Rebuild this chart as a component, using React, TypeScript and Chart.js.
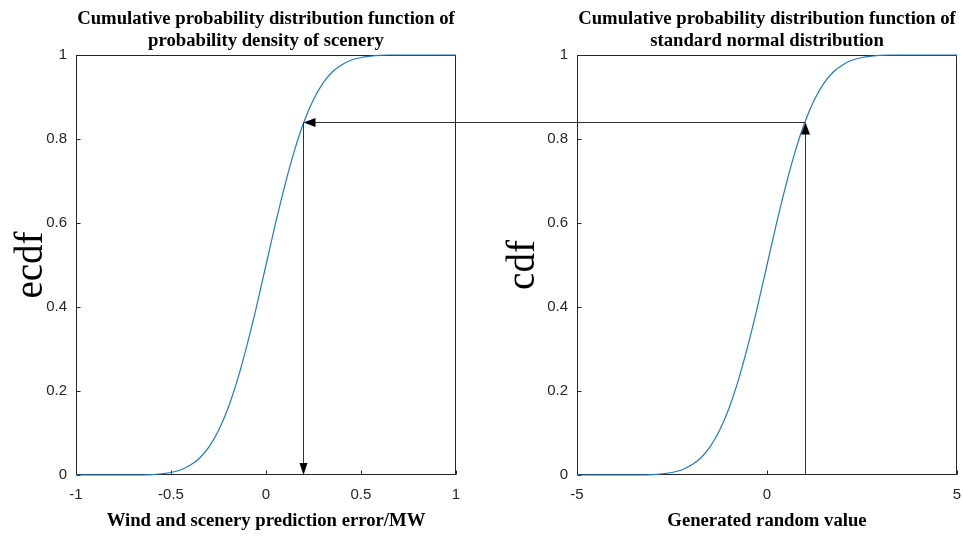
import React, { useEffect, useRef } from "react";
import { Chart, registerables } from "chart.js";

Chart.register(...registerables);

// ---- data ----
const LEFT_X = [
  -1, -0.95, -0.9, -0.85, -0.8, -0.75, -0.7, -0.65, -0.6, -0.55, -0.5, -0.45, -0.4, -0.35,
  -0.3, -0.25, -0.2, -0.15, -0.1, -0.05, 0, 0.05, 0.1, 0.15, 0.2, 0.25, 0.3, 0.35, 0.4,
  0.45, 0.5, 0.55, 0.6, 0.65, 0.7, 0.75, 0.8, 0.85, 0.9, 0.95, 1,
];
const LEFT_ECDF = [
  0, 0, 0, 0, 0, 0, 0, 0, 0.001, 0.003, 0.006, 0.012, 0.023, 0.04, 0.067, 0.106, 0.159,
  0.227, 0.309, 0.401, 0.5, 0.599, 0.691, 0.773, 0.841, 0.894, 0.933, 0.96, 0.977, 0.988,
  0.994, 0.997, 0.999, 1, 1, 1, 1, 1, 1, 1, 1,
];
const RIGHT_X = [
  -5, -4.75, -4.5, -4.25, -4, -3.75, -3.5, -3.25, -3, -2.75, -2.5, -2.25, -2, -1.75, -1.5,
  -1.25, -1, -0.75, -0.5, -0.25, 0, 0.25, 0.5, 0.75, 1, 1.25, 1.5, 1.75, 2, 2.25, 2.5,
  2.75, 3, 3.25, 3.5, 3.75, 4, 4.25, 4.5, 4.75, 5,
];
const RIGHT_CDF = [
  0, 0, 0, 0, 0, 0, 0, 0, 0.001, 0.003, 0.006, 0.012, 0.023, 0.04, 0.067, 0.106, 0.159,
  0.227, 0.309, 0.401, 0.5, 0.599, 0.691, 0.773, 0.841, 0.894, 0.933, 0.96, 0.977, 0.988,
  0.994, 0.997, 0.999, 1, 1, 1, 1, 1, 1, 1, 1,
];
const LEFT_X_TICKS = [-1, -0.5, 0, 0.5, 1];
const RIGHT_X_TICKS = [-5, 0, 5];
const Y_TICKS = [0, 0.2, 0.4, 0.6, 0.8, 1];
const LEFT_TITLE = ["Cumulative probability distribution function of", "probability density of scenery"];
const RIGHT_TITLE = ["Cumulative probability distribution function of", "standard normal distribution"];
const LEFT_X_LABEL = "Wind and scenery prediction error/MW";
const RIGHT_X_LABEL = "Generated random value";
const LEFT_Y_LABEL = "ecdf";
const RIGHT_Y_LABEL = "cdf";
const MAPPED_ERROR = [0.2];
const RANDOM_VALUE = [1];
const PROBABILITY = [0.841];

const AXIS_COLOR = "#262626";
const CURVE_COLOR = "#1a7cc4";
const ARROW_COLOR = "#333333";
const SERIF = "'Liberation Serif', 'Times New Roman', serif";
const SANS = "'Liberation Sans', Arial, sans-serif";

type Side = "left" | "right";

const fmt = (v: any) => String(+Number(v).toFixed(3));

function framePlugin(side: Side) {
  return {
    id: "matlabFrame" + side,
    beforeDatasetsDraw(chart: any) {
      const { ctx, chartArea: a, scales } = chart;
      const L = Math.round(a.left) + 0.5;
      const T = Math.round(a.top) + 0.5;
      const R = Math.round(a.right) - 0.5;
      const B = Math.round(a.bottom) - 0.5;
      ctx.save();
      ctx.strokeStyle = AXIS_COLOR;
      ctx.lineWidth = 1;
      ctx.strokeRect(L, T, R - L, B - T);
      ctx.beginPath();
      const xt = side === "left" ? LEFT_X_TICKS : RIGHT_X_TICKS;
      xt.forEach((v) => {
        const px = Math.round(scales.x.getPixelForValue(v)) + 0.5;
        ctx.moveTo(px, B);
        ctx.lineTo(px, B - 4);
      });
      Y_TICKS.forEach((v) => {
        const py = Math.round(scales.y.getPixelForValue(v)) + 0.5;
        ctx.moveTo(L, py);
        ctx.lineTo(L + 4, py);
      });
      ctx.stroke();
      ctx.restore();
    },
    afterDatasetsDraw(chart: any) {
      const { ctx, scales, width } = chart;
      const py = Math.round(scales.y.getPixelForValue(PROBABILITY[0])) + 0.5;
      const pb = Math.round(scales.y.getPixelForValue(0));
      ctx.save();
      ctx.strokeStyle = ARROW_COLOR;
      ctx.fillStyle = "#000";
      ctx.lineWidth = 1;
      if (side === "left") {
        const px = Math.round(scales.x.getPixelForValue(MAPPED_ERROR[0])) - 0.5;
        ctx.beginPath();
        ctx.moveTo(px, py);
        ctx.lineTo(px, pb - 10);
        ctx.moveTo(px + 10, py);
        ctx.lineTo(width, py);
        ctx.stroke();
        ctx.beginPath();
        ctx.moveTo(px, pb);
        ctx.lineTo(px - 4, pb - 12);
        ctx.lineTo(px + 4, pb - 12);
        ctx.closePath();
        ctx.fill();
        ctx.beginPath();
        ctx.moveTo(px, py);
        ctx.lineTo(px + 12, py - 4.5);
        ctx.lineTo(px + 12, py + 4.5);
        ctx.closePath();
        ctx.fill();
      } else {
        const px = Math.round(scales.x.getPixelForValue(RANDOM_VALUE[0])) + 0.5;
        ctx.beginPath();
        ctx.moveTo(0, py);
        ctx.lineTo(px, py);
        ctx.moveTo(px, pb);
        ctx.lineTo(px, py + 10);
        ctx.stroke();
        ctx.beginPath();
        ctx.moveTo(px, py);
        ctx.lineTo(px - 4.5, py + 12);
        ctx.lineTo(px + 4.5, py + 12);
        ctx.closePath();
        ctx.fill();
      }
      ctx.restore();
    },
  };
}

function makeConfig(side: Side): any {
  const xs = side === "left" ? LEFT_X : RIGHT_X;
  const ys = side === "left" ? LEFT_ECDF : RIGHT_CDF;
  const xt = side === "left" ? LEFT_X_TICKS : RIGHT_X_TICKS;
  const yAxisWidth = side === "left" ? 76 : 96;
  return {
    type: "line",
    data: {
      datasets: [
        {
          data: xs.map((x, i) => ({ x, y: ys[i] })),
          borderColor: CURVE_COLOR,
          borderWidth: 1.2,
          pointRadius: 0,
          cubicInterpolationMode: "monotone",
          fill: false,
          clip: 2,
        },
      ],
    },
    options: {
      responsive: false,
      animation: false,
      devicePixelRatio: 1,
      layout: { padding: { left: 0, right: 25, top: 0, bottom: 0 } },
      plugins: {
        legend: { display: false },
        tooltip: { enabled: false },
        title: {
          display: true,
          fullSize: false,
          text: side === "left" ? LEFT_TITLE : RIGHT_TITLE,
          color: "#000",
          font: { family: SERIF, size: 18.7, weight: "bold", lineHeight: "22px" },
          padding: { top: 8, bottom: 3 },
        },
      },
      scales: {
        x: {
          type: "linear",
          min: xt[0],
          max: xt[xt.length - 1],
          afterBuildTicks: (s: any) => {
            s.ticks = xt.map((v) => ({ value: v }));
          },
          afterFit: (s: any) => {
            s.height = 62;
          },
          grid: { display: false, drawTicks: false, tickLength: 0 },
          border: { display: false },
          ticks: {
            autoSkip: false,
            maxRotation: 0,
            padding: 11,
            color: AXIS_COLOR,
            font: { family: SANS, size: 15 },
            callback: fmt,
          },
          title: {
            display: true,
            text: side === "left" ? LEFT_X_LABEL : RIGHT_X_LABEL,
            color: "#000",
            font: { family: SERIF, size: 18.7, weight: "bold", lineHeight: "22px" },
            padding: { top: 0, bottom: 5 },
          },
        },
        y: {
          type: "linear",
          min: 0,
          max: 1,
          afterBuildTicks: (s: any) => {
            s.ticks = Y_TICKS.map((v) => ({ value: v }));
          },
          afterFit: (s: any) => {
            s.width = yAxisWidth;
          },
          grid: { display: false, drawTicks: false, tickLength: 0 },
          border: { display: false },
          ticks: {
            autoSkip: false,
            padding: 9,
            color: AXIS_COLOR,
            font: { family: SANS, size: 15 },
            callback: fmt,
          },
          title: {
            display: true,
            text: side === "left" ? LEFT_Y_LABEL : RIGHT_Y_LABEL,
            color: "#000",
            font: { family: SERIF, size: 39, weight: "normal", lineHeight: 1 },
            padding: { top: side === "left" ? 12 : 23, bottom: 0 },
          },
        },
      },
    },
    plugins: [framePlugin(side)],
  };
}

function Panel({ side, left, width }: { side: Side; left: number; width: number }) {
  const ref = useRef<HTMLCanvasElement | null>(null);
  useEffect(() => {
    if (!ref.current) return;
    const chart = new Chart(ref.current, makeConfig(side));
    return () => chart.destroy();
  }, [side]);
  return (
    <canvas
      ref={ref}
      width={width}
      height={537}
      style={{ position: "absolute", left, top: 0, width, height: 537, display: "block" }}
    />
  );
}

export default function App() {
  return (
    <div
      style={{
        position: "absolute",
        left: 0,
        top: 0,
        width: 963,
        height: 537,
        background: "#fff",
        overflow: "hidden",
      }}
    >
      <Panel side="left" left={0} width={481} />
      <Panel side="right" left={481} width={501} />
    </div>
  );
}
